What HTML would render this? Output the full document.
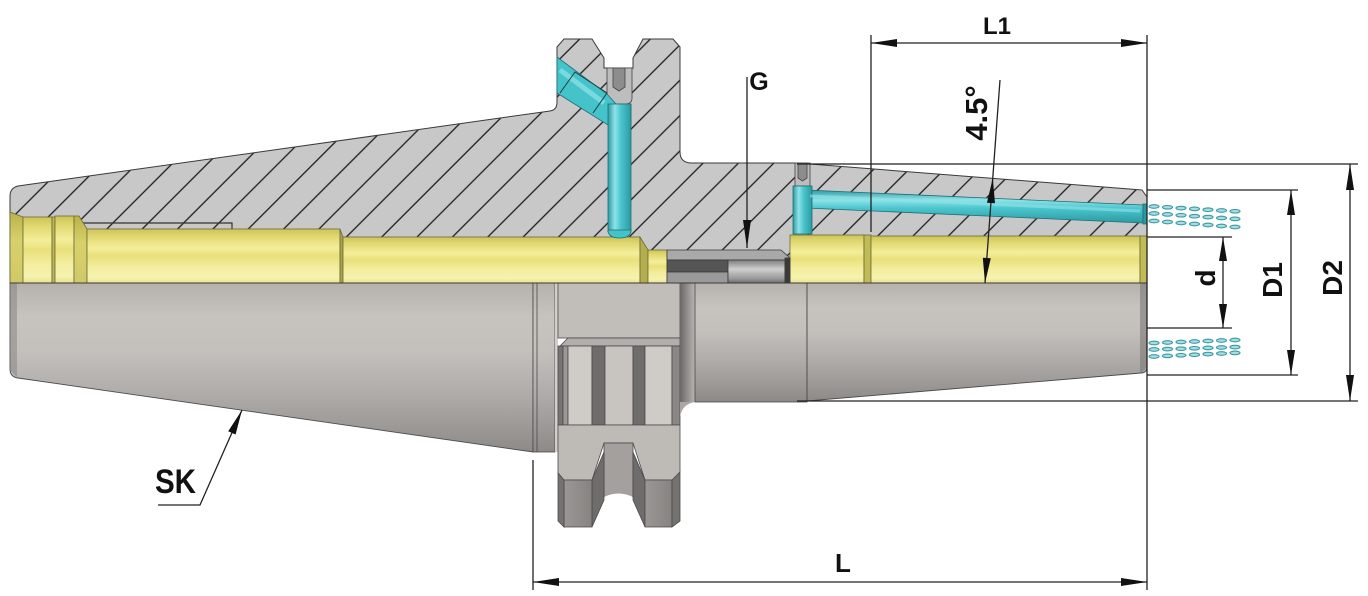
<!DOCTYPE html>
<html><head><meta charset="utf-8"><style>html,body{margin:0;padding:0;background:#fff}svg{display:block}</style></head>
<body>
<svg width="1368" height="596" viewBox="0 0 1368 596" xmlns="http://www.w3.org/2000/svg">
<defs>
<pattern id="hatch" patternUnits="userSpaceOnUse" width="25" height="25" patternTransform="rotate(45)">
<rect width="25" height="25" fill="#c8c8c8"/>
<line x1="12.5" y1="-1" x2="12.5" y2="26" stroke="#1c1c1c" stroke-width="1.3"/>
</pattern>
<linearGradient id="body" x1="0" y1="0" x2="0" y2="1">
<stop offset="0" stop-color="#b5b1ad"/><stop offset="0.2" stop-color="#c6c2be"/><stop offset="0.4" stop-color="#c4c0bc"/><stop offset="0.65" stop-color="#b0acaa"/><stop offset="0.85" stop-color="#9d9997"/><stop offset="1" stop-color="#8d8987"/>
</linearGradient>
<linearGradient id="yel" x1="0" y1="0" x2="0" y2="1">
<stop offset="0" stop-color="#ccc458"/><stop offset="0.15" stop-color="#e2d972"/><stop offset="0.35" stop-color="#f4ee9a"/><stop offset="0.5" stop-color="#e9e07a"/><stop offset="0.7" stop-color="#f3ed9e"/><stop offset="0.9" stop-color="#f6f2ae"/><stop offset="1" stop-color="#e9e28c"/>
</linearGradient>
<linearGradient id="yelD" x1="0" y1="0" x2="0" y2="1">
<stop offset="0" stop-color="#b9b24a"/><stop offset="0.4" stop-color="#d8d16a"/><stop offset="1" stop-color="#d0c967"/>
</linearGradient>
<linearGradient id="tealV" x1="0" y1="0" x2="1" y2="0">
<stop offset="0" stop-color="#2a9aa2"/><stop offset="0.3" stop-color="#8fe3e8"/><stop offset="0.55" stop-color="#4cc6ce"/><stop offset="1" stop-color="#2a9aa2"/>
</linearGradient>
<linearGradient id="tealH" x1="0" y1="0" x2="0" y2="1">
<stop offset="0" stop-color="#2a9aa2"/><stop offset="0.3" stop-color="#8fe3e8"/><stop offset="0.55" stop-color="#4cc6ce"/><stop offset="1" stop-color="#2a9aa2"/>
</linearGradient>
<linearGradient id="shadow" x1="0" y1="0" x2="1" y2="0">
<stop offset="0" stop-color="#6a6866"/><stop offset="1" stop-color="#b8b5b2"/>
</linearGradient>
<linearGradient id="cyl" x1="0" y1="0" x2="0" y2="1">
<stop offset="0" stop-color="#7c7c7c"/><stop offset="0.4" stop-color="#cfcfcf"/><stop offset="0.8" stop-color="#9a9a9a"/><stop offset="1" stop-color="#6d6d6d"/>
</linearGradient>
<linearGradient id="tooth" x1="0" y1="0" x2="1" y2="0">
<stop offset="0" stop-color="#9a9795"/><stop offset="1" stop-color="#868381"/>
</linearGradient>
</defs>

<!-- Hatched section (top half) -->
<path d="M10,196 Q10,188 18,186 L550,111 Q557,110 557,102 L557,47 L564,39 L592,39 L604,58 L604,68 L633,68 L633,58 L643,39 L673,39 L680,47 L680,152 Q680,163 692,163 L797,163 L1142,190 L1147,197 L1147,283 L10,283 Z" fill="url(#hatch)" stroke="#3a3a3a" stroke-width="1"/>

<!-- thin outline in left bore -->
<polyline points="82,229 82,223 232,223 232,229" fill="none" stroke="#333" stroke-width="1.2"/>

<!-- Yellow bore pieces -->
<g stroke="#6b6a3a" stroke-width="0.8">
<polygon points="10,212 23,217 23,283 10,283" fill="url(#yelD)"/>
<rect x="23" y="217" width="29" height="66" fill="url(#yel)"/>
<rect x="52" y="217" width="3" height="66" fill="#bdb752"/>
<rect x="55" y="216" width="19" height="67" fill="url(#yel)"/>
<polygon points="74,216 79,216 87,229 87,283 74,283" fill="url(#yelD)"/>
<rect x="87" y="229" width="253" height="54" fill="url(#yel)"/>
<polygon points="340,229 343,237 343,283 340,283" fill="#a9a34a"/>
<rect x="343" y="237" width="297" height="46" fill="url(#yel)"/>
<polygon points="640,237 648,250 648,283 640,283" fill="#b3ad4d"/>
<rect x="648" y="250" width="19" height="33" fill="url(#yel)"/>
<rect x="790" y="235" width="74" height="48" fill="url(#yel)"/>
<rect x="864" y="235" width="7" height="48" fill="#c1bb55"/>
<rect x="871" y="236" width="269" height="47" fill="url(#yel)"/>
<rect x="1140" y="236" width="7" height="47" fill="#c1bb55"/>
</g>

<!-- G thread region -->
<g stroke="#3a3a3a" stroke-width="0.8">
<polygon points="667,250 781,250 790,258 790,260 667,260" fill="#a9a9a9"/>
<rect x="667" y="260" width="61" height="12" fill="#555"/>
<rect x="667" y="272" width="61" height="11" fill="#9a9a9a"/>
<rect x="728" y="260" width="57" height="23" fill="url(#cyl)"/>
<rect x="785" y="258" width="5" height="25" fill="#3a3a3a"/>
</g>

<!-- screws -->
<g stroke="#444" stroke-width="0.8">
<path d="M607,68 L632,68 L632,98 Q632,104 625,104 L614,104 Q607,104 607,98 Z" fill="#bdbdbd"/>
<polygon points="613,68 625,68 625,87 619,91 613,87" fill="#8d8d8d"/>
<rect x="795" y="163" width="15" height="23" fill="#bdbdbd"/>
<polygon points="798,163 807,163 807,178 802.5,181 798,178" fill="#8d8d8d"/>
</g>

<!-- Teal channels -->
<g stroke="#1f6e74" stroke-width="0.8">
<polygon points="557,57 607,94 616,104 631,104 631,125 608,125 557,93" fill="#45c3cb"/>
<rect x="608" y="104" width="23" height="128" fill="url(#tealV)"/>
<path d="M608,230 L631,230 Q631,238 619.5,238 Q608,238 608,230 Z" fill="#45c3cb"/>
<polygon points="806,190 1143,205 1143,223 806,208" fill="url(#tealH)"/>
<rect x="793" y="186" width="19" height="48" fill="url(#tealV)"/>
<rect x="1143" y="204" width="4" height="20" fill="#2a9aa2"/>
</g>
<line x1="560" y1="70" x2="604" y2="103" stroke="#8fe3e8" stroke-width="5" opacity="0.7"/>
<line x1="810" y1="196" x2="1140" y2="211" stroke="#8fe3e8" stroke-width="3" opacity="0.6"/>
<polyline points="560,93 575,72 607,93 593,113" fill="none" stroke="#1f3e44" stroke-width="1"/>

<!-- Bottom half: left taper -->
<path d="M10,283 L533,283 L533,452 L18,378 Q10,377 10,369 Z" fill="url(#body)" stroke="#4a4a4a" stroke-width="0.9"/>
<polygon points="10,283 17,283 17,377 10,370" fill="#8a8683" opacity="0.55"/>
<rect x="533" y="283" width="22" height="169" fill="url(#body)" stroke="#4a4a4a" stroke-width="0.8"/>
<line x1="537" y1="283" x2="537" y2="452" stroke="#4a4a4a" stroke-width="0.8"/>
<rect x="555" y="283" width="3" height="169" fill="#d0cdca"/>

<!-- Flange bottom -->
<g stroke="#4a4a4a" stroke-width="0.8">
<rect x="558" y="283" width="122" height="55" fill="#c1beba"/>
<polygon points="560,346 568,338 680,338 680,346" fill="#b1aeab"/>
<rect x="558" y="346" width="5" height="79" fill="#777472"/>
<rect x="563" y="346" width="5" height="79" fill="#9b9896"/>
<rect x="568" y="346" width="24" height="79" fill="#cfccc8"/>
<rect x="592" y="346" width="13" height="79" fill="#6f6d6b"/>
<rect x="605" y="346" width="28" height="79" fill="#c8c5c1"/>
<rect x="633" y="346" width="12" height="79" fill="#6f6d6b"/>
<rect x="645" y="346" width="27" height="79" fill="#cfccc8"/>
<rect x="672" y="346" width="8" height="79" fill="#8a8785"/>
<polygon points="558,425 680,425 680,472 673,480 645,480 633,443 604,443 592,480 564,480 558,473" fill="#bebbb7"/>
<rect x="604" y="443" width="29" height="54" fill="#a3a09d"/>
<path d="M604,497 Q618.5,490 633,497 L633,530 L604,530 Z" fill="#fff" stroke="none"/>
<polygon points="592,480 604,452 604,500 592,527" fill="#6f6d6b"/>
<polygon points="564,480 592,480 592,527 564,527" fill="url(#tooth)"/>
<polygon points="558,473 564,480 564,527 558,521" fill="#757371"/>
<polygon points="633,452 645,480 645,527 633,500" fill="#6f6d6b"/>
<polygon points="645,480 672,480 672,527 645,527" fill="url(#tooth)"/>
<polygon points="672,480 680,472 680,521 672,527" fill="#757371"/>
</g>

<!-- shadow + cylinder -->
<path d="M680,283 L695,283 L695,402 L680,402 Z" fill="url(#shadow)"/>
<path d="M680,402 L695,402 Q682,404 680,417 Z" fill="#a9a6a3"/>
<rect x="695" y="283" width="112" height="119" fill="url(#body)" stroke="#4a4a4a" stroke-width="0.8"/>

<!-- right taper -->
<path d="M807,283 L1147,283 L1147,367 Q1147,373 1141,373 L807,401 Z" fill="url(#body)" stroke="#4a4a4a" stroke-width="0.9"/>
<polygon points="1140,283 1147,283 1147,367 1141,373 1140,373" fill="#7d7977" opacity="0.6"/>

<line x1="10" y1="283" x2="1147" y2="283" stroke="#3a3a3a" stroke-width="1"/>

<!-- Coolant spray dashes -->
<g fill="#a8dde2" stroke="#3a9aa4" stroke-width="1.1">
<ellipse cx="1154" cy="206.5" rx="5" ry="1.8"/><ellipse cx="1167.5" cy="207.3" rx="5" ry="1.8"/><ellipse cx="1181" cy="208.1" rx="5" ry="1.8"/><ellipse cx="1194.5" cy="208.9" rx="5" ry="1.8"/><ellipse cx="1208" cy="209.7" rx="5" ry="1.8"/><ellipse cx="1221.5" cy="210.5" rx="5" ry="1.8"/><ellipse cx="1235" cy="211.3" rx="5" ry="1.8"/>
<ellipse cx="1154" cy="213.5" rx="5" ry="1.8"/><ellipse cx="1167.5" cy="214.4" rx="5" ry="1.8"/><ellipse cx="1181" cy="215.3" rx="5" ry="1.8"/><ellipse cx="1194.5" cy="216.2" rx="5" ry="1.8"/><ellipse cx="1208" cy="217.1" rx="5" ry="1.8"/><ellipse cx="1221.5" cy="218" rx="5" ry="1.8"/><ellipse cx="1235" cy="218.9" rx="5" ry="1.8"/>
<ellipse cx="1154" cy="221" rx="5" ry="1.8"/><ellipse cx="1167.5" cy="222" rx="5" ry="1.8"/><ellipse cx="1181" cy="223" rx="5" ry="1.8"/><ellipse cx="1194.5" cy="224" rx="5" ry="1.8"/><ellipse cx="1208" cy="225" rx="5" ry="1.8"/><ellipse cx="1221.5" cy="226" rx="5" ry="1.8"/><ellipse cx="1235" cy="227" rx="5" ry="1.8"/>
<ellipse cx="1154" cy="343" rx="5" ry="1.8"/><ellipse cx="1167.5" cy="342.5" rx="5" ry="1.8"/><ellipse cx="1181" cy="342" rx="5" ry="1.8"/><ellipse cx="1194.5" cy="341.5" rx="5" ry="1.8"/><ellipse cx="1208" cy="341" rx="5" ry="1.8"/><ellipse cx="1221.5" cy="340.5" rx="5" ry="1.8"/><ellipse cx="1235" cy="340" rx="5" ry="1.8"/>
<ellipse cx="1154" cy="349.5" rx="5" ry="1.8"/><ellipse cx="1167.5" cy="349.1" rx="5" ry="1.8"/><ellipse cx="1181" cy="348.7" rx="5" ry="1.8"/><ellipse cx="1194.5" cy="348.3" rx="5" ry="1.8"/><ellipse cx="1208" cy="347.9" rx="5" ry="1.8"/><ellipse cx="1221.5" cy="347.5" rx="5" ry="1.8"/><ellipse cx="1235" cy="347.1" rx="5" ry="1.8"/>
<ellipse cx="1154" cy="356.5" rx="5" ry="1.8"/><ellipse cx="1167.5" cy="355.9" rx="5" ry="1.8"/><ellipse cx="1181" cy="355.3" rx="5" ry="1.8"/><ellipse cx="1194.5" cy="354.7" rx="5" ry="1.8"/><ellipse cx="1208" cy="354.1" rx="5" ry="1.8"/><ellipse cx="1221.5" cy="353.5" rx="5" ry="1.8"/><ellipse cx="1235" cy="352.9" rx="5" ry="1.8"/>
</g>

<!-- Dimension lines -->
<g stroke="#222" stroke-width="1.3" fill="none">
<line x1="871" y1="35" x2="871" y2="232"/>
<line x1="1147" y1="35" x2="1147" y2="590"/>
<line x1="871" y1="43" x2="1147" y2="43"/>
<line x1="797" y1="164" x2="1358" y2="164"/>
<line x1="797" y1="401" x2="1358" y2="401"/>
<line x1="1350" y1="164" x2="1350" y2="401"/>
<line x1="1147" y1="190" x2="1298" y2="190"/>
<line x1="1147" y1="375" x2="1298" y2="375"/>
<line x1="1291" y1="190" x2="1291" y2="375"/>
<line x1="1147" y1="237" x2="1232" y2="237"/>
<line x1="1147" y1="328" x2="1232" y2="328"/>
<line x1="1223" y1="237" x2="1223" y2="328"/>
<line x1="533" y1="460" x2="533" y2="590"/>
<line x1="533" y1="582" x2="1147" y2="582"/>
<line x1="1000" y1="80" x2="985" y2="283"/>
<line x1="747" y1="77" x2="747" y2="248"/>
<polyline points="158,505 200,505 242,410"/>
</g>
<g fill="#111">
<polygon points="871,43 897,39 897,47"/>
<polygon points="1147,43 1121,39 1121,47"/>
<polygon points="1350,164 1346,190 1354,190"/>
<polygon points="1350,401 1346,375 1354,375"/>
<polygon points="1291,190 1287,215 1295,215"/>
<polygon points="1291,375 1287,350 1295,350"/>
<polygon points="1223,237 1219,261 1227,261"/>
<polygon points="1223,328 1219,304 1227,304"/>
<polygon points="533,582 559,578 559,586"/>
<polygon points="1147,582 1121,578 1121,586"/>
<polygon points="992.8,178 995,203.3 987,202.7"/>
<polygon points="985,283 990.8,258.3 982.8,257.7"/>
<polygon points="747,248 743,220 751,220"/>
<polygon points="242,410 235.6,434.5 228.2,431.3"/>
</g>

<!-- Labels -->
<g font-family="'Liberation Sans', 'DejaVu Sans', sans-serif" font-weight="bold" fill="#111">
<text x="997" y="34" font-size="24" text-anchor="middle">L1</text>
<text x="759" y="90" font-size="25" text-anchor="middle">G</text>
<text x="843" y="572" font-size="26" text-anchor="middle">L</text>
<text x="155" y="493" font-size="34" textLength="41" lengthAdjust="spacingAndGlyphs">SK</text>
<text transform="translate(987,113) rotate(-90)" font-size="31" text-anchor="middle">4.5°</text>
<text transform="translate(1342,278) rotate(-90)" font-size="28" text-anchor="middle">D2</text>
<text transform="translate(1282,280) rotate(-90)" font-size="28" text-anchor="middle">D1</text>
<text transform="translate(1215,278) rotate(-90)" font-size="28" text-anchor="middle">d</text>
</g>
</svg>
</body></html>
